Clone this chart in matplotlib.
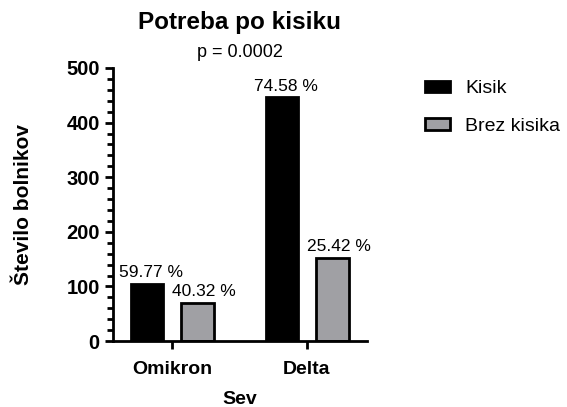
import numpy as np
import matplotlib.pyplot as plt
from matplotlib.ticker import MultipleLocator

plt.rcParams['font.family'] = ['Liberation Sans', 'DejaVu Sans']

strains = ['Omikron', 'Delta']
kisik = [104, 446]
brez = [70, 152]
kisik_pct = ['59.77 %', '74.58 %']
brez_pct = ['40.32 %', '25.42 %']

fig = plt.figure(figsize=(5.67, 4.07), dpi=100)
ax = fig.add_axes([0.199, 0.162, 0.448, 0.671])

x = np.arange(len(strains))
b1 = ax.bar(x - 0.185, kisik, 0.24, color='black', edgecolor='black', linewidth=2, label='Kisik')
b2 = ax.bar(x + 0.19, brez, 0.24, color='#a0a0a4', edgecolor='black', linewidth=2, label='Brez kisika')

for rect, t in zip(b1, kisik_pct):
    ax.text(rect.get_x() + rect.get_width() / 2 + 0.03, rect.get_height() + 7, t,
            ha='center', va='bottom', fontsize=12.5)
for rect, t in zip(b2, brez_pct):
    ax.text(rect.get_x() + rect.get_width() / 2 + 0.05, rect.get_height() + 7, t,
            ha='center', va='bottom', fontsize=12.5)

ax.set_xlim(-0.437, 1.444)
ax.set_ylim(0, 500)
ax.set_xticks(x)
ax.set_xticklabels(strains, fontsize=14, fontweight='bold')
ax.yaxis.set_major_locator(MultipleLocator(100))
ax.yaxis.set_minor_locator(MultipleLocator(20))
for lbl in ax.get_yticklabels():
    lbl.set_fontsize(14.5)
    lbl.set_fontweight('bold')
ax.tick_params(axis='both', width=2, length=6)
ax.tick_params(axis='y', which='minor', width=2, length=4)
ax.tick_params(axis='x', pad=8)
for s in ['top', 'right']:
    ax.spines[s].set_visible(False)
for s in ['left', 'bottom']:
    ax.spines[s].set_linewidth(2)

ax.set_ylabel('Število bolnikov', fontsize=15, fontweight='bold', labelpad=24)
ax.set_xlabel('Sev', fontsize=14, fontweight='bold', labelpad=10)
fig.text(0.423, 0.945, 'Potreba po kisiku', ha='center', va='center', fontsize=17.5, fontweight='bold')
fig.text(0.423, 0.872, 'p = 0.0002', ha='center', va='center', fontsize=13)

ax.legend(loc='upper left', bbox_to_anchor=(1.176, 1.004), frameon=False, fontsize=14,
          handlelength=1.3, handleheight=0.5, labelspacing=1.05, handletextpad=0.75,
          borderaxespad=0.3)

fig.savefig('out.png', dpi=100)
